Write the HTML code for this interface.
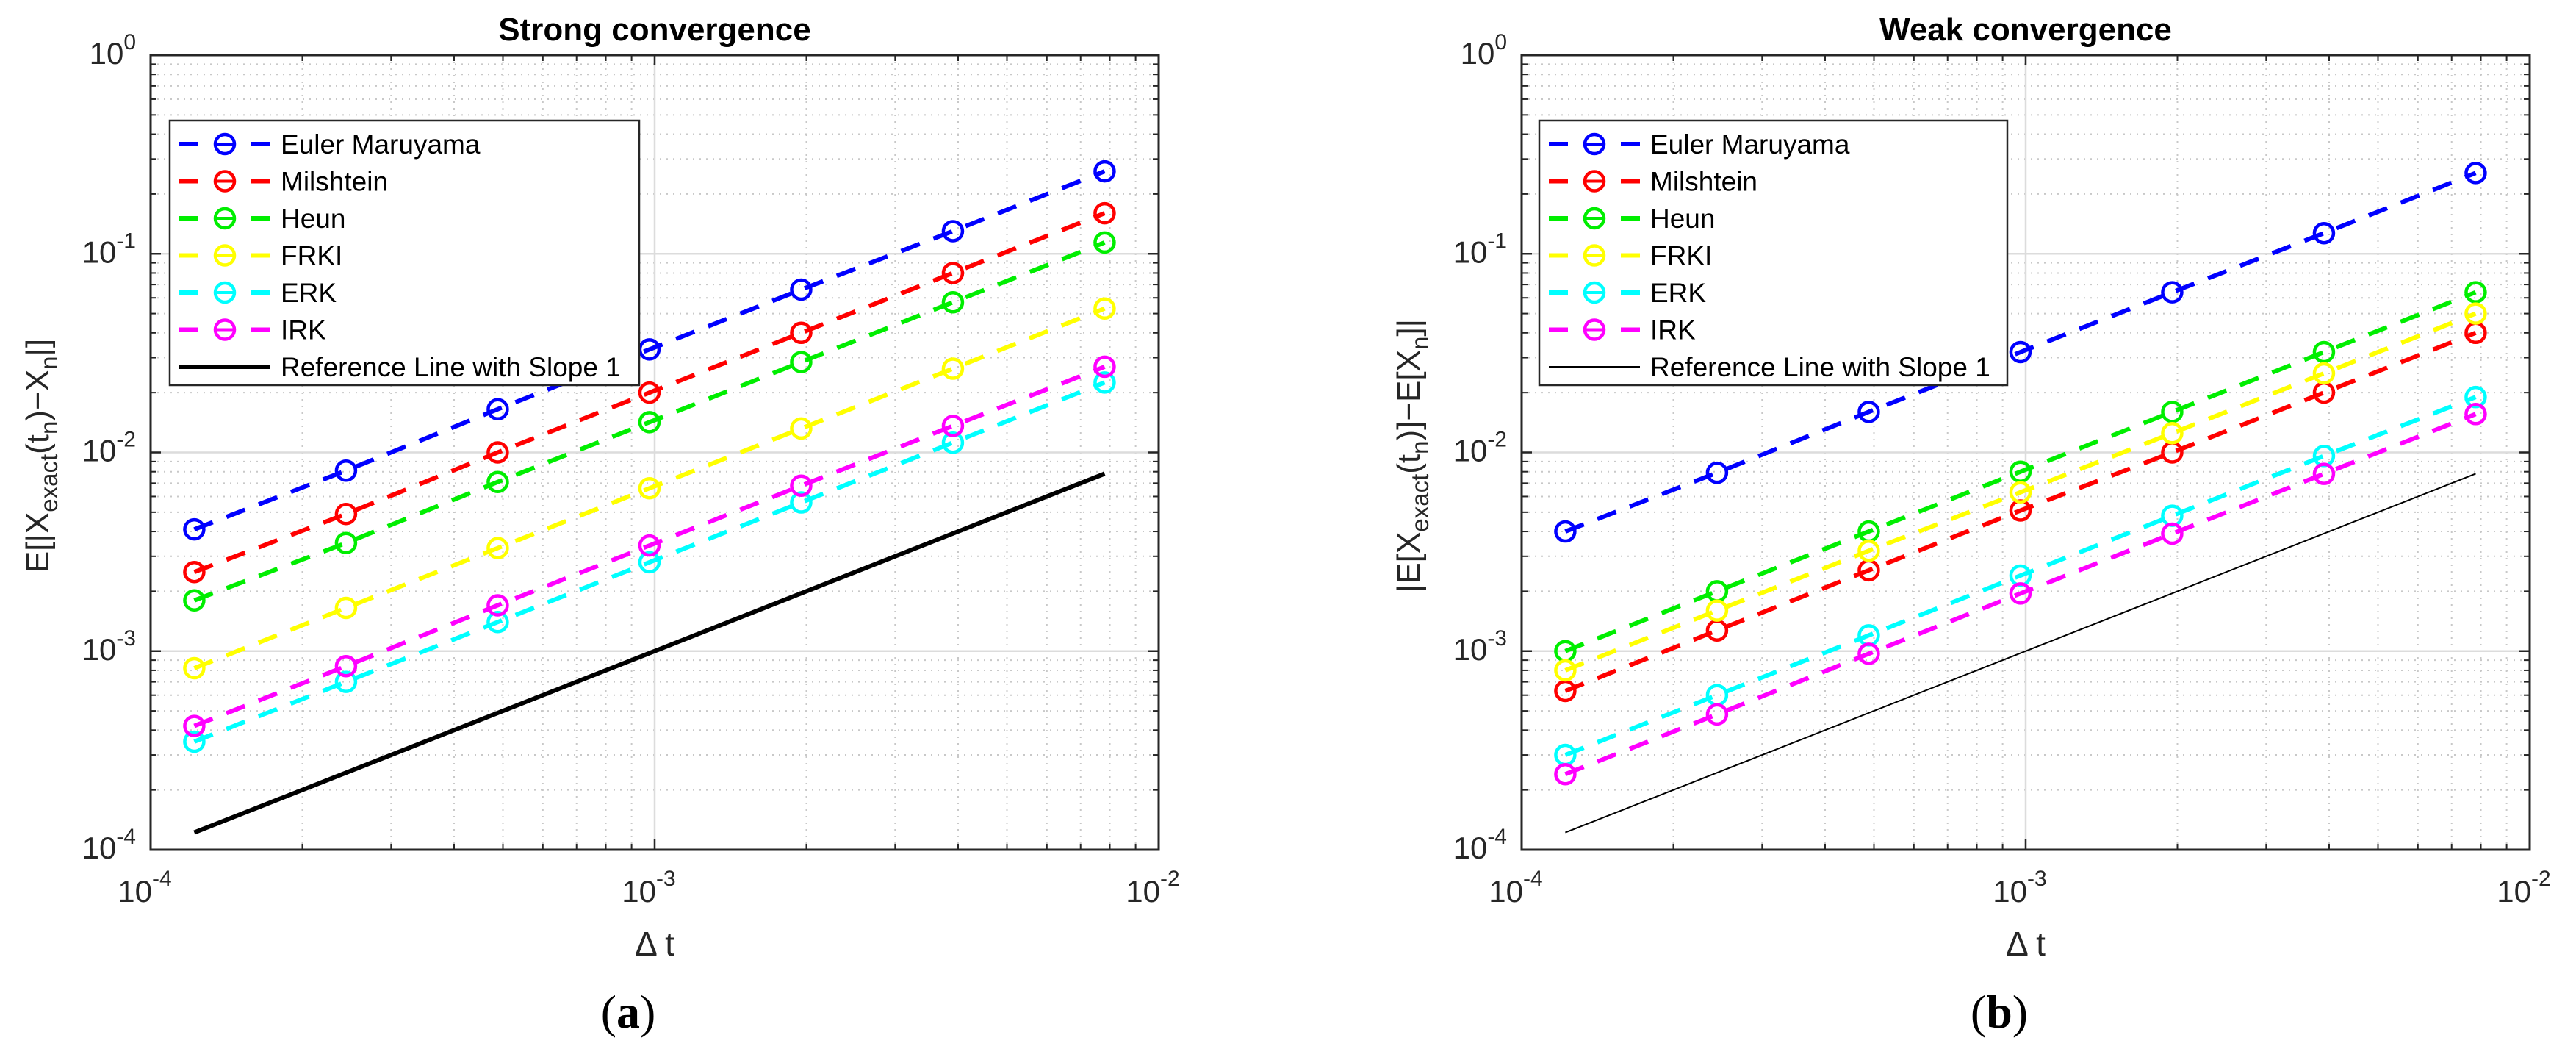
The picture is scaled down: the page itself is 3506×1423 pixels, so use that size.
<!DOCTYPE html>
<html><head><meta charset="utf-8"><style>
html,body{margin:0;padding:0;background:#fff;}
svg{display:block;font-family:"Liberation Sans",sans-serif;}
</style></head><body>
<svg id="fig" width="3506" height="1423" viewBox="0 0 3506 1423" xmlns="http://www.w3.org/2000/svg"></svg>
<script>
const dtValues = [1.2207e-4, 2.4414e-4, 4.8828e-4, 9.7656e-4, 1.9531e-3, 3.9063e-3, 7.8125e-3];
const seriesNames = ["Euler Maruyama","Milshtein","Heun","FRKI","ERK","IRK"];
const seriesColors = ["#0000ff","#ff0000","#00ee00","#ffff00","#00ffff","#ff00ff"];
const strongEM = [4.1e-3, 8.1e-3, 1.65e-2, 3.3e-2, 6.6e-2, 1.3e-1, 2.6e-1];
const strongMil = [2.5e-3, 4.9e-3, 1.0e-2, 2.0e-2, 4.0e-2, 8.0e-2, 1.6e-1];
const strongHeun = [1.8e-3, 3.5e-3, 7.1e-3, 1.42e-2, 2.85e-2, 5.7e-2, 1.14e-1];
const strongFRKI = [8.2e-4, 1.65e-3, 3.3e-3, 6.6e-3, 1.32e-2, 2.64e-2, 5.3e-2];
const strongERK = [3.5e-4, 7.0e-4, 1.4e-3, 2.8e-3, 5.6e-3, 1.12e-2, 2.25e-2];
const strongIRK = [4.2e-4, 8.4e-4, 1.7e-3, 3.4e-3, 6.8e-3, 1.36e-2, 2.7e-2];
const weakEM = [4.0e-3, 7.9e-3, 1.6e-2, 3.2e-2, 6.4e-2, 1.27e-1, 2.55e-1];
const weakMil = [6.3e-4, 1.27e-3, 2.55e-3, 5.1e-3, 1.0e-2, 2.0e-2, 4.0e-2];
const weakHeun = [1.0e-3, 2.0e-3, 4.0e-3, 8.0e-3, 1.6e-2, 3.2e-2, 6.4e-2];
const weakFRKI = [8.0e-4, 1.6e-3, 3.2e-3, 6.3e-3, 1.25e-2, 2.5e-2, 5.0e-2];
const weakERK = [3.0e-4, 6.0e-4, 1.2e-3, 2.4e-3, 4.8e-3, 9.6e-3, 1.9e-2];
const weakIRK = [2.4e-4, 4.8e-4, 9.7e-4, 1.95e-3, 3.9e-3, 7.8e-3, 1.56e-2];
const refX = [1.2207e-4, 7.8125e-3];
const refY = [1.2207e-4, 7.8125e-3];
const xTickExp = [-4, -3, -2];
const yTickExp = [-4, -3, -2, -1, 0];

const NS = "http://www.w3.org/2000/svg";
const svg = document.getElementById('fig');
function mk(tag, attrs, parent){const e=document.createElementNS(NS,tag);for(const k in attrs)e.setAttribute(k,attrs[k]);(parent||svg).appendChild(e);return e;}

function panel(opt){
  const L=opt.left, R=opt.left+1372, T=75, B=1156;
  const xs = v => L + (Math.log10(v)+4)/2*(R-L);
  const ys = v => B - (Math.log10(v)+4)/4*(B-T);
  const g = mk('g',{});
  
  
  mk('rect',{x:L,y:T,width:R-L,height:B-T,fill:'#fff'},g);
  for(let e=-4;e<0;e++){for(let m=2;m<=9;m++){const v=m*Math.pow(10,e);const y=ys(v);
    const ln=mk('line',{x1:L,x2:R,y1:y,y2:y,stroke:'#c8c8c8','stroke-width':2,'stroke-dasharray':'2 7'},g);
    
    mk('line',{x1:L,x2:L+8,y1:y,y2:y,stroke:'#262626','stroke-width':2},g);
    mk('line',{x1:R,x2:R-8,y1:y,y2:y,stroke:'#262626','stroke-width':2},g);}}
  for(let e=-4;e<-2;e++){for(let m=2;m<=9;m++){const v=m*Math.pow(10,e);const x=xs(v);
    const ln=mk('line',{x1:x,x2:x,y1:T,y2:B,stroke:'#c8c8c8','stroke-width':2,'stroke-dasharray':'2 7'},g);
    
    mk('line',{x1:x,x2:x,y1:B,y2:B-8,stroke:'#262626','stroke-width':2},g);
    mk('line',{x1:x,x2:x,y1:T,y2:T+8,stroke:'#262626','stroke-width':2},g);}}
  yTickExp.forEach(e=>{const y=ys(Math.pow(10,e));
    const ln=mk('line',{x1:L,x2:R,y1:y,y2:y,stroke:'#dcdcdc','stroke-width':2.5},g);
    
    mk('line',{x1:L,x2:L+14,y1:y,y2:y,stroke:'#262626','stroke-width':2.5},g);
    mk('line',{x1:R,x2:R-14,y1:y,y2:y,stroke:'#262626','stroke-width':2.5},g);
    const t=mk('text',{x:L-20,y:y+12,'text-anchor':'end','font-size':42,fill:'#262626'},g);
    
    t.innerHTML='10<tspan dy="-20" font-size="30">'+e+'</tspan>';});
  xTickExp.forEach(e=>{const x=xs(Math.pow(10,e));
    const ln=mk('line',{x1:x,x2:x,y1:T,y2:B,stroke:'#dcdcdc','stroke-width':2.5},g);
    
    mk('line',{x1:x,x2:x,y1:B,y2:B-14,stroke:'#262626','stroke-width':2.5},g);
    mk('line',{x1:x,x2:x,y1:T,y2:T+14,stroke:'#262626','stroke-width':2.5},g);
    const t=mk('text',{x:x-8,y:1227,'text-anchor':'middle','font-size':42,fill:'#262626'},g);
    
    t.innerHTML='10<tspan dy="-22" font-size="30">'+e+'</tspan>';});
  const fr=mk('rect',{x:L,y:T,width:R-L,height:B-T,fill:'none',stroke:'#262626','stroke-width':3},g);
  
  const rl=mk('line',{x1:xs(refX[0]),y1:ys(refY[0]),x2:xs(refX[1]),y2:ys(refY[1]),stroke:'#000','stroke-width':opt.refW},g);
  
  opt.data.forEach((arr,i)=>{
    const sg=mk('g',{},g);
    
    
    const pts=dtValues.map((d,j)=>xs(d)+','+ys(arr[j])).join(' ');
    mk('polyline',{points:pts,fill:'none',stroke:seriesColors[i],'stroke-width':6,'stroke-dasharray':'27 20'},sg);
    dtValues.forEach((d,j)=>{const c=mk('circle',{cx:xs(d),cy:ys(arr[j]),r:13,fill:'none',stroke:seriesColors[i],'stroke-width':4.5},sg);
      });
  });
  const lg=mk('g',{},g);
  
  const lx=opt.leg[0], ly=164, lw=opt.leg[1];
  mk('rect',{x:lx,y:ly,width:lw,height:360,fill:'#fff',stroke:'#262626','stroke-width':2.5},lg);
  const names=seriesNames.concat(['Reference Line with Slope 1']);
  names.forEach((n,i)=>{const y=196+i*50.5;
    const eg=mk('g',{},lg);
    
    if(i<6){
      mk('line',{x1:lx+13,x2:lx+39,y1:y,y2:y,stroke:seriesColors[i],'stroke-width':6},eg);
      mk('line',{x1:lx+111,x2:lx+137,y1:y,y2:y,stroke:seriesColors[i],'stroke-width':6},eg);
      mk('circle',{cx:lx+75,cy:y,r:13,fill:'none',stroke:seriesColors[i],'stroke-width':4.5},eg);
      mk('line',{x1:lx+63,x2:lx+87,y1:y,y2:y,stroke:seriesColors[i],'stroke-width':4},eg);
    } else {
      mk('line',{x1:lx+13,x2:lx+137,y1:y,y2:y,stroke:'#000','stroke-width':opt.refW},eg);
    }
    const t=mk('text',{x:lx+151,y:y+13,'font-size':37,fill:'#000'},eg);t.textContent=n;
  });
  const tt=mk('text',{x:L+686,y:55,'text-anchor':'middle','font-size':44,'font-weight':'bold',fill:'#000'},g);
  tt.textContent=opt.title;
  const xl=mk('text',{x:L+686,y:1300,'text-anchor':'middle','font-size':46,fill:'#262626'},g);
  xl.textContent='Δ t';
  const yl=mk('text',{x:0,y:0,'text-anchor':'middle','font-size':44,fill:'#262626',transform:'translate('+opt.ylx+',620) rotate(-90)'},g);
  yl.innerHTML=opt.ylab;
  const pl=mk('text',{x:L+650,y:1398,'text-anchor':'middle','font-size':64,fill:'#000','font-family':'Liberation Serif, serif'},g);
  
  pl.innerHTML='(<tspan font-weight="bold">'+opt.plab+'</tspan>)';
}
panel({id:'strong',left:205,title:'Strong convergence',refW:6,leg:[231,639],ylx:66,plab:'a',
  data:[strongEM,strongMil,strongHeun,strongFRKI,strongERK,strongIRK],
  ylab:'E[|X<tspan dy="12" font-size="33">exact</tspan><tspan dy="-12">(t</tspan><tspan dy="12" font-size="33">n</tspan><tspan dy="-12">)−X</tspan><tspan dy="12" font-size="33">n</tspan><tspan dy="-12">|]</tspan>'});
panel({id:'weak',left:2071,title:'Weak convergence',refW:2,leg:[2095,637],ylx:1932,plab:'b',
  data:[weakEM,weakMil,weakHeun,weakFRKI,weakERK,weakIRK],
  ylab:'|E[X<tspan dy="12" font-size="33">exact</tspan><tspan dy="-12">(t</tspan><tspan dy="12" font-size="33">n</tspan><tspan dy="-12">)]−E[X</tspan><tspan dy="12" font-size="33">n</tspan><tspan dy="-12">]|</tspan>'});
</script>
</body></html>
